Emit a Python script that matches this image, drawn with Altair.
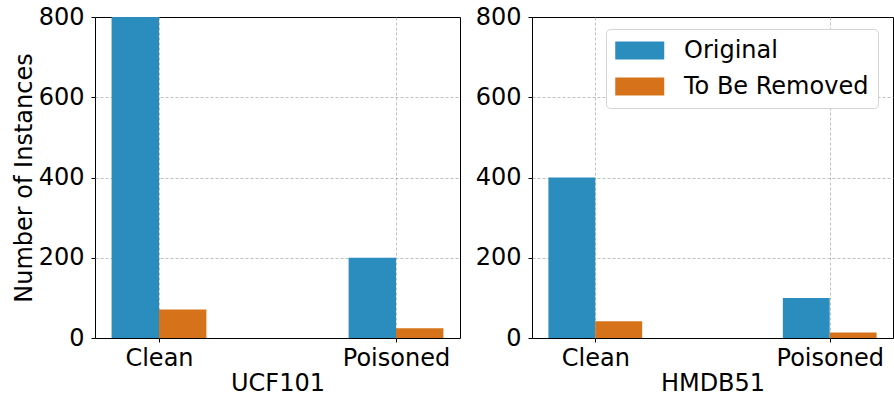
import altair as alt
import pandas as pd

datasets = ["UCF101", "HMDB51"]
categories = ["Clean", "Poisoned"]
series = ["Original", "To Be Removed"]
ucf101_original = [800, 200]
ucf101_removed = [71, 24]
hmdb51_original = [400, 100]
hmdb51_removed = [42, 14]
y_ticks = [0, 200, 400, 600, 800]
colors = ["#2b8cbe", "#d6721a"]

values = {
    "UCF101": {"Original": ucf101_original, "To Be Removed": ucf101_removed},
    "HMDB51": {"Original": hmdb51_original, "To Be Removed": hmdb51_removed},
}
rows = []
for d in datasets:
    for s in series:
        for i, c in enumerate(categories):
            rows.append({"dataset": d, "series": s, "category": c, "idx": i, "value": values[d][s][i]})
df = pd.DataFrame(rows)

FONT = "DejaVu Sans"
FS = 24


def panel(name, show_ytitle, show_legend, width):
    legend = None
    if show_legend:
        legend = alt.Legend(
            title=None, orient="none", legendX=74, legendY=12,
            symbolType="M-1,-0.74L3,-0.74L3,0.74L-1,0.74Z", symbolSize=600,
            symbolStrokeWidth=0, symbolOpacity=1, labelFontSize=FS, labelFont=FONT,
            labelColor="black", labelLimit=0,
            labelOffset=44, rowPadding=11, padding=9,
            strokeColor="#d4d4d4", fillColor="white", cornerRadius=4,
        )
    return (
        alt.Chart(df)
        .transform_filter(alt.datum.dataset == name)
        .transform_calculate(
            x0="datum.idx + (datum.series == 'Original' ? -0.2 : 0)",
        )
        .transform_calculate(x1="datum.x0 + 0.2")
        .mark_bar(opacity=1)
        .encode(
            x=alt.X("x0:Q", scale=alt.Scale(domain=[-0.27, 1.27], nice=False, zero=False),
                    axis=alt.Axis(values=[0, 1], title=name, labelPadding=4, titlePadding=1,
                                  labelExpr="datum.value == 0 ? 'Clean' : 'Poisoned'")),
            x2="x1:Q",
            y=alt.Y("value:Q", scale=alt.Scale(domain=[0, 800], nice=False),
                    axis=alt.Axis(values=y_ticks,
                                  title="Number of Instances" if show_ytitle else None,
                                  gridOpacity=alt.condition("datum.value == 0 || datum.value == 800",
                                                            alt.value(0), alt.value(1)))),
            y2=alt.datum(0),
            color=alt.Color("series:N", scale=alt.Scale(domain=series, range=colors), legend=legend),
        )
        .properties(width=width, height=321)
    )


left = panel("UCF101", True, False, 365)
right = panel("HMDB51", False, True, 361)

chart = (
    alt.hconcat(left, right, spacing=13, background="white")
    .resolve_scale(color="independent")
    .properties(padding={"left": 11, "top": 4, "right": 0, "bottom": 0})
    .configure_view(stroke="black", strokeWidth=1)
    .configure_axis(
        labelFont=FONT, titleFont=FONT, labelFontSize=FS, titleFontSize=FS,
        labelColor="black", titleColor="black", titleFontWeight="normal",
        domain=False, tickColor="black", tickSize=4, labelPadding=7, titlePadding=2,
        grid=True, gridColor="#b0b0b0", gridDash=[3, 2], gridWidth=0.8,
    )
)

chart.save("out.html", embed_options={"renderer": "svg", "actions": False})
